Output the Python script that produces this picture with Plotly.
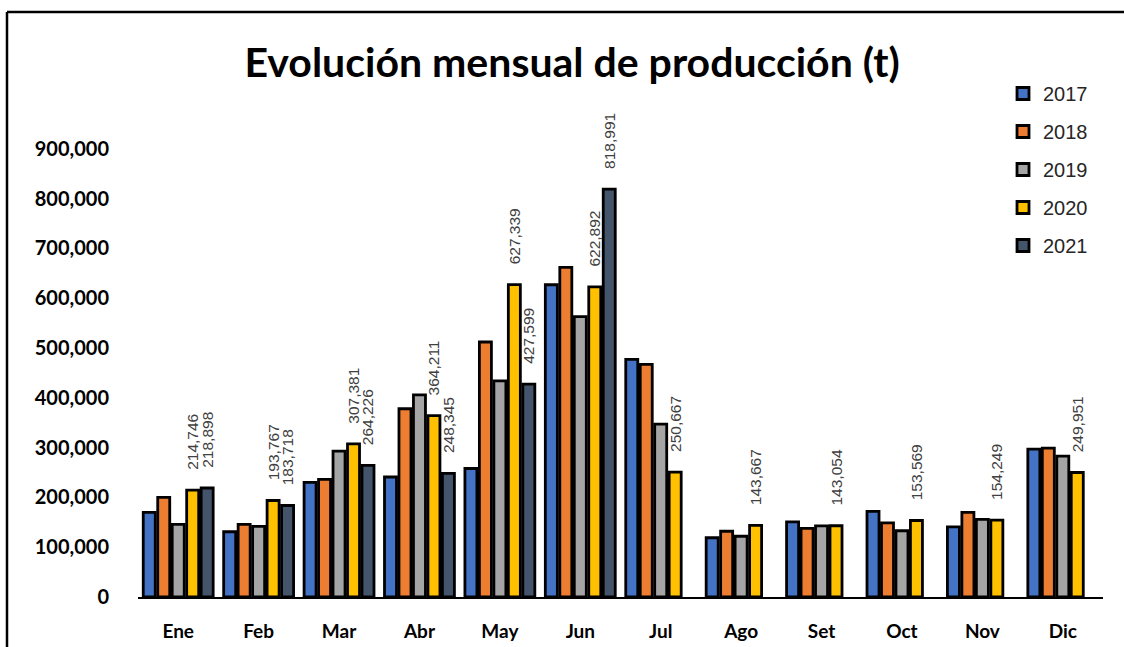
import plotly.graph_objects as go

months = ["Ene", "Feb", "Mar", "Abr", "May", "Jun", "Jul", "Ago", "Set", "Oct", "Nov", "Dic"]
years = ["2017", "2018", "2019", "2020", "2021"]

v2017 = [170000, 131000, 230000, 241000, 258000, 627000, 477000, 119000, 151000, 172000, 141000, 297000]
v2018 = [200000, 146000, 236000, 378000, 512000, 662000, 467000, 132000, 138000, 149000, 170000, 299000]
v2019 = [146000, 142000, 293000, 406000, 434000, 563000, 347000, 122000, 143000, 133000, 156000, 283000]
v2020 = [214746, 193767, 307381, 364211, 627339, 622892, 250667, 143667, 143054, 153569, 154249, 249951]
v2021 = [218898, 183718, 264226, 248345, 427599, 818991, None, None, None, None, None, None]

series = [v2017, v2018, v2019, v2020, v2021]
colors = ["#4472C4", "#ED7D31", "#A5A5A5", "#FFC000", "#44546A"]
labeled = [False, False, False, True, True]

tickvals = [0, 100000, 200000, 300000, 400000, 500000, 600000, 700000, 800000, 900000]
ticktext = ["0", "100,000", "200,000", "300,000", "400,000", "500,000", "600,000", "700,000", "800,000", "900,000"]

fig = go.Figure()
for i, (yr, vals, col, lab) in enumerate(zip(years, series, colors, labeled)):
    fig.add_trace(go.Bar(
        x=months, y=vals, name=yr,
        marker=dict(color=col, line=dict(color="black", width=2.8)),
        text=[("    " + f"{v:,.0f}") if (lab and v is not None) else "" for v in vals],
        textposition="outside" if lab else "none",
        textangle=-90,
        constraintext="none",
        cliponaxis=False,
        textfont=dict(family="Liberation Sans, Arial, sans-serif", size=15.5, color="#404040"),
        legendgroup=yr,
    ))

W, H = 1124, 647
L, R, T, B = 138, 21, 99, 50
pw, ph = W - L - R, H - T - B

def px_x(p):
    return (p - L) / pw

def px_y(p):
    return (H - B - p) / ph

fig.update_layout(
    width=W, height=H,
    margin=dict(l=L, r=R, t=T, b=B, autoexpand=False),
    paper_bgcolor="white", plot_bgcolor="white",
    barmode="group", bargap=0.1, bargroupgap=0.17,
    title=dict(text="<b>Evolución mensual de producción (t)</b>",
               font=dict(family="Lato, Open Sans, sans-serif", size=41, color="black"),
               x=0.509, xanchor="center", y=1 - 63 / H, yanchor="middle"),
    font=dict(family="Lato, Open Sans, sans-serif", color="black"),
    legend=dict(x=px_x(1003), xanchor="left", y=px_y(74), yanchor="top",
                font=dict(family="Liberation Sans, Arial, sans-serif", size=20, color="#262626"),
                tracegroupgap=9, bgcolor="rgba(0,0,0,0)"),
    showlegend=True,
)
fig.update_xaxes(showline=True, linecolor="black", linewidth=2, showgrid=False,
                 ticks="", tickfont=dict(family="Lato, Open Sans, sans-serif", size=19, color="black"),
                 ticklabelstandoff=16, tickprefix="<b>", ticksuffix="</b>")
fig.update_yaxes(range=[0, 1000000], tickvals=tickvals, ticktext=["<b>" + t + "</b>" for t in ticktext],
                 showgrid=False, zeroline=False, showline=False, ticks="",
                 tickfont=dict(family="Lato, Open Sans, sans-serif", size=20, color="black"),
                 ticklabelstandoff=28)

# chart frame (top and left edges)
fig.add_shape(type="line", xref="paper", yref="paper", x0=px_x(7), x1=px_x(W), y0=px_y(12), y1=px_y(12),
              line=dict(color="black", width=2.5))
fig.add_shape(type="line", xref="paper", yref="paper", x0=px_x(7), x1=px_x(7), y0=px_y(12), y1=px_y(H),
              line=dict(color="black", width=2.5))

fig.write_html("out.html", config={"displayModeBar": False},
               post_script="document.body.style.margin='0';document.body.style.padding='0';")
